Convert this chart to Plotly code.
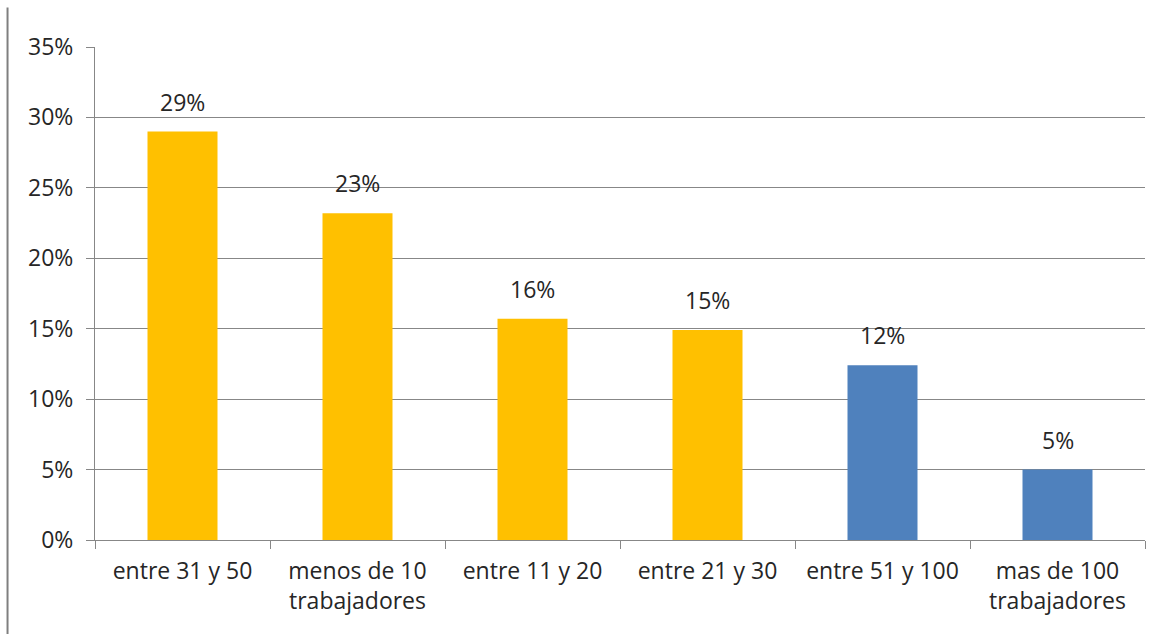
import plotly.graph_objects as go

categories = ["entre 31 y 50", "menos de 10<br>trabajadores", "entre 11 y 20",
              "entre 21 y 30", "entre 51 y 100", "mas de 100<br>trabajadores"]
values = [0.29, 0.232, 0.157, 0.149, 0.124, 0.050]
labels = ["29%", "23%", "16%", "15%", "12%", "5%"]
colors = ["#FFC000", "#FFC000", "#FFC000", "#FFC000", "#4F81BD", "#4F81BD"]

FONT = "Open Sans, sans-serif"
TXT = "#262626"
GRID = "#878787"
FS = 23

fig = go.Figure()
fig.add_trace(go.Bar(x=categories, y=values, marker=dict(color=colors, line=dict(width=0)),
                     width=0.4, hoverinfo="skip"))

for c, v, l in zip(categories, values, labels):
    fig.add_annotation(x=c, y=v, text=l, showarrow=False, yanchor="bottom", yshift=12,
                       font=dict(family=FONT, size=FS, color=TXT))

fig.update_layout(
    width=1175, height=634,
    margin=dict(l=95, r=30, t=47, b=94),
    paper_bgcolor="white", plot_bgcolor="white",
    showlegend=False,
    font=dict(family=FONT, size=FS, color=TXT),
    bargap=0.6,
    xaxis=dict(showline=True, linecolor=GRID, linewidth=1, ticks="outside", tickson="boundaries",
               ticklen=8, tickcolor=GRID, showgrid=False, ticklabelstandoff=10,
               tickfont=dict(family=FONT, size=FS, color=TXT)),
    yaxis=dict(range=[0, 0.35], dtick=0.05, tickformat=".0%", showline=True, linecolor=GRID,
               ticks="outside", ticklen=8, tickcolor=GRID, showgrid=True, gridcolor=GRID,
               gridwidth=1, zeroline=False, ticklabelstandoff=8,
               tickfont=dict(family=FONT, size=FS, color=TXT)),
    shapes=[dict(type="line", xref="paper", yref="paper", x0=-0.0833, x1=-0.0833, y0=-0.2, y1=1.08,
                 line=dict(color="#7F7F7F", width=2))],
)

fig.write_html("out.html")
